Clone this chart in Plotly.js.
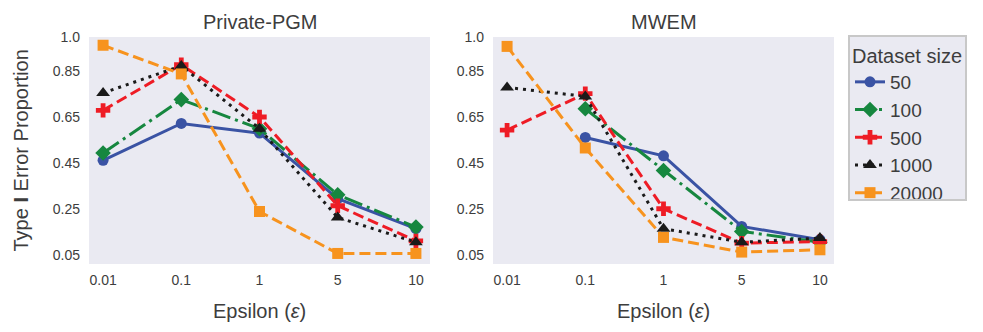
<!DOCTYPE html>
<html><head><meta charset="utf-8">
<script src="https://cdn.plot.ly/plotly-3.0.1.min.js"></script>
<style>html,body{margin:0;padding:0;background:#fff}</style>
</head><body>
<div id="chart" style="width:983px;height:332px"></div>
<script>
const epsilons = ["0.01", "0.1", "1", "5", "10"];
const sizes = ["50", "100", "500", "1000", "20000"];
const yTicks = [0.05, 0.25, 0.45, 0.65, 0.85, 1.0];
const yTickText = ["0.05", "0.25", "0.45", "0.65", "0.85", "1.0"];

// Private-PGM
const pgm50 = [0.462, 0.623, 0.581, 0.295, 0.164];
const pgm100 = [0.494, 0.727, 0.600, 0.312, 0.171];
const pgm500 = [0.680, 0.879, 0.651, 0.264, 0.111];
const pgm1000 = [0.756, 0.874, 0.600, 0.213, 0.105];
const pgm20000 = [0.964, 0.839, 0.239, 0.056, 0.056];

// MWEM
const mwem50 = [null, 0.562, 0.482, 0.174, 0.116];
const mwem100 = [null, 0.687, 0.418, 0.152, 0.105];
const mwem500 = [0.594, 0.753, 0.251, 0.101, 0.108];
const mwem1000 = [0.780, 0.741, 0.164, 0.105, 0.123];
const mwem20000 = [0.959, 0.516, 0.126, 0.062, 0.072];

const colors = ["#3a53a4", "#16873f", "#ee1c25", "#1a1a1a", "#f7931e"];
const symbols = ["circle", "diamond", "cross", "triangle-up", "square"];
const dashes = ["solid", "19px,5px,3px,5px", "11px,5px", "3px,5px", "11px,5px"];
const msizes = [11, 12, 12, 12, 11];

const pgmData = [pgm50, pgm100, pgm500, pgm1000, pgm20000];
const mwemData = [mwem50, mwem100, mwem500, mwem1000, mwem20000];

const traces = [];
function addSet(data, xa, ya, show) {
  data.forEach((ys, i) => {
    traces.push({
      x: epsilons, y: ys, xaxis: xa, yaxis: ya,
      type: "scatter", mode: "lines+markers",
      name: sizes[i], legendgroup: sizes[i], showlegend: show,
      line: {color: colors[i], width: 3, dash: dashes[i]},
      marker: {color: colors[i], symbol: symbols[i], size: msizes[i]},
      connectgaps: false
    });
  });
}
addSet(pgmData, "x", "y", true);
addSet(mwemData, "x2", "y2", false);

const FAM = "Liberation Sans, Arial, sans-serif";
const TXT = "#3d3d3d";
const tickFont = {family: FAM, size: 14, color: TXT};
const titleFont = {family: FAM, size: 20, color: TXT};

const L = 89, R1 = 430, L2 = 493, R2 = 834, T = 37, B = 264, W = 983, H = 332;

function xax(domain, anchor) {
  return {
    domain: domain, anchor: anchor, type: "category",
    range: [-0.18, 4.18], showgrid: false, zeroline: false, showline: false,
    ticks: "", tickfont: tickFont, ticklabelstandoff: 6
  };
}
function yax(anchor) {
  return {
    anchor: anchor, range: [0.01, 1.0], showgrid: false, zeroline: false, showline: false,
    ticks: "", tickvals: yTicks, ticktext: yTickText, tickfont: tickFont, ticklabelstandoff: 8
  };
}
const ph = B - T;
const layout = {
  width: W, height: H,
  margin: {l: 0, r: 0, t: T, b: H - B},
  paper_bgcolor: "#ffffff", plot_bgcolor: "#eaeaf2",
  xaxis: xax([L/W, R1/W], "y"),
  yaxis: yax("x"),
  xaxis2: xax([L2/W, R2/W], "y2"),
  yaxis2: yax("x2"),
  showlegend: true,
  legend: {
    x: 848/W, y: 1 + (T - 35)/ph, xanchor: "left", yanchor: "top",
    bgcolor: "#eaeaf2", bordercolor: "#c8c8c8", borderwidth: 2,
    font: {family: FAM, size: 19, color: TXT},
    title: {text: "Dataset size", font: {family: FAM, size: 20, color: TXT}},
    tracegroupgap: 0
  },
  annotations: [
    {text: "Private-PGM", xref: "paper", yref: "paper", x: (L+R1)/2/W, y: (B-22)/ph, xanchor: "center", yanchor: "middle", showarrow: false, font: titleFont},
    {text: "MWEM", xref: "paper", yref: "paper", x: (L2+R2)/2/W, y: (B-22)/ph, xanchor: "center", yanchor: "middle", showarrow: false, font: titleFont},
    {text: "Epsilon (<i>ε</i>)", xref: "paper", yref: "paper", x: (L+R1)/2/W, y: (B-311)/ph, xanchor: "center", yanchor: "middle", showarrow: false, font: titleFont},
    {text: "Epsilon (<i>ε</i>)", xref: "paper", yref: "paper", x: (L2+R2)/2/W, y: (B-311)/ph, xanchor: "center", yanchor: "middle", showarrow: false, font: titleFont},
    {text: "Type <b>I</b> Error Proportion", xref: "paper", yref: "paper", x: 20/W, y: 0.5, xanchor: "center", yanchor: "middle", textangle: -90, showarrow: false, font: titleFont}
  ]
};

Plotly.newPlot("chart", traces, layout, {displayModeBar: false, staticPlot: true});
</script>
</body></html>
